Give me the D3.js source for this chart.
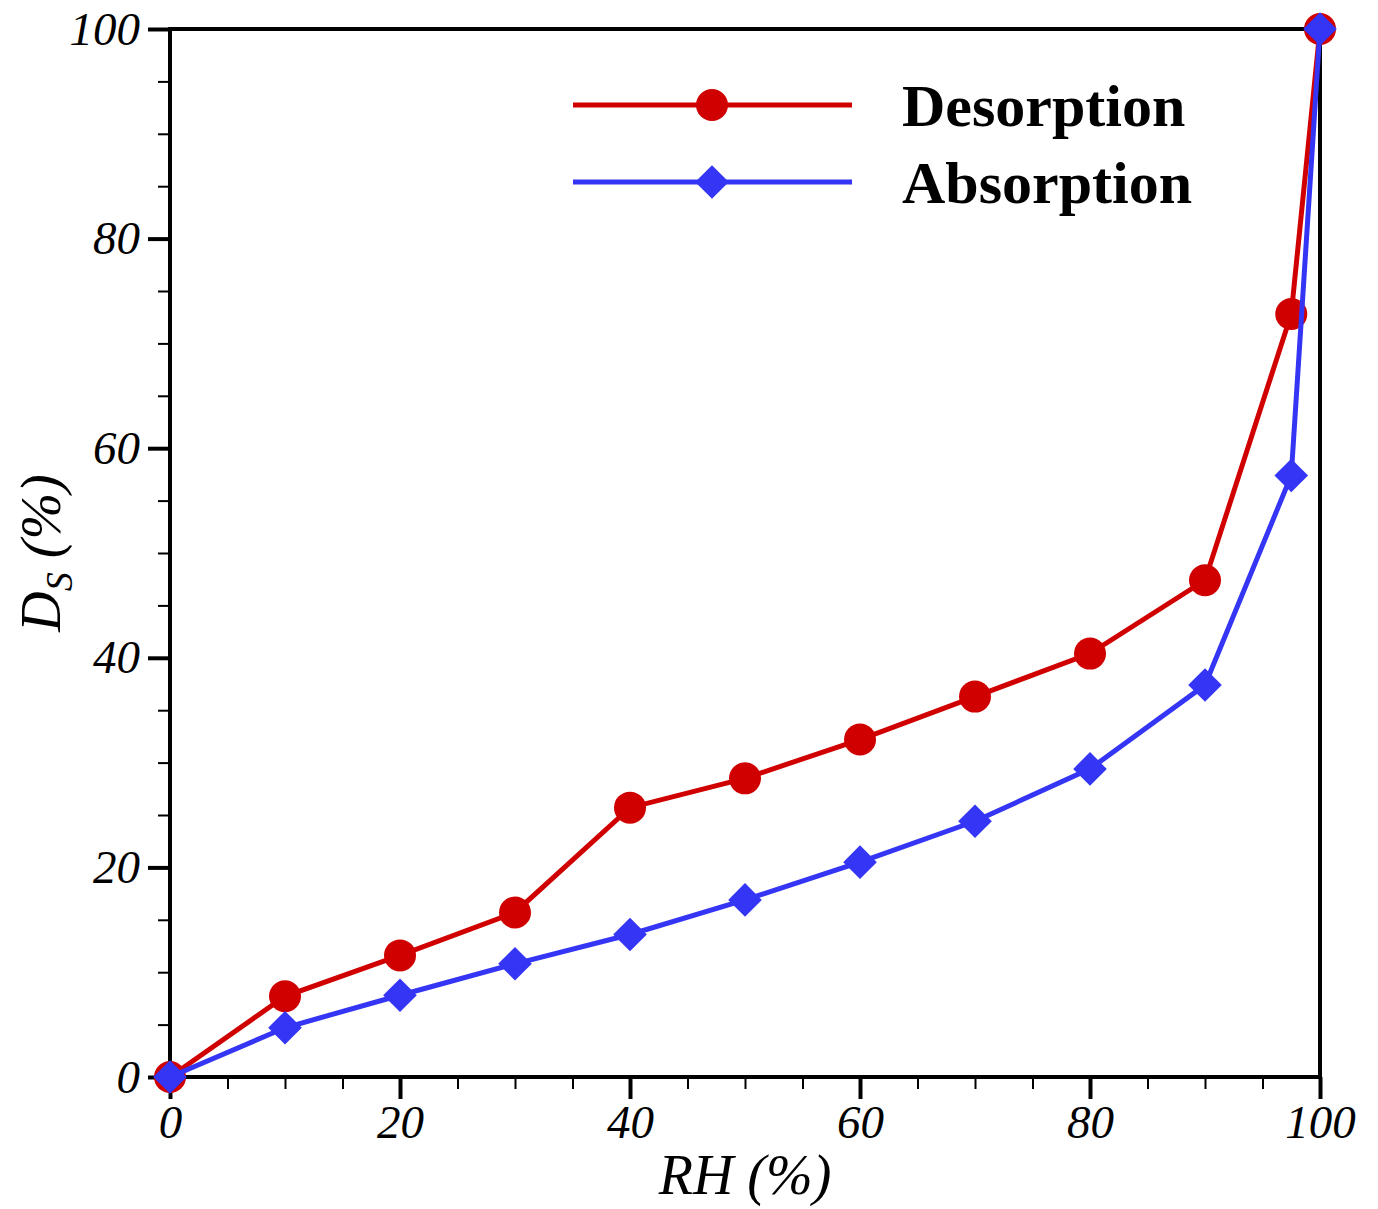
<!DOCTYPE html>
<html>
<head>
<meta charset="utf-8">
<script src="https://cdn.jsdelivr.net/npm/d3@7"></script>
<style>
  body { margin: 0; background: #fff; }
  text { font-family: "Liberation Serif", "Times New Roman", serif; }
</style>
</head>
<body>
<div id="chart"></div>
<script>
// RH (%) values shared by both series
const rh = [0, 10, 20, 30, 40, 50, 60, 70, 80, 90, 97.5, 100]
const desorption = [0, 7.7, 11.6, 15.7, 25.7, 28.5, 32.2, 36.3, 40.4, 47.4, 72.8, 100]
const absorption = [0, 4.7, 7.8, 10.8, 13.6, 16.9, 20.5, 24.4, 29.4, 37.4, 57.4, 100]
const xTicks = [0, 20, 40, 60, 80, 100]
const yTicks = [0, 20, 40, 60, 80, 100]
const seriesNames = ['Desorption', 'Absorption']

const W = 1378
const H = 1209
const margins = { top: 29, right: 58, bottom: 132, left: 170 }
const width = W - margins.left - margins.right
const height = H - margins.top - margins.bottom

const red = '#d00000'
const blue = '#3535f5'

const svg = d3.select('#chart')
  .append('svg')
  .attr('width', W)
  .attr('height', H)

const g = svg.append('g')
  .attr('transform', `translate(${margins.left}, ${margins.top})`)

const x = d3.scaleLinear([0, 100], [0, width])
const y = d3.scaleLinear([0, 100], [height, 0])

// minor ticks every 5 (skip the majors)
const minor = d3.range(0, 101, 5).filter(v => v % 20 !== 0)

g.append('g')
  .classed('minor', true)
  .attr('transform', `translate(0, ${height})`)
  .call(d3.axisBottom(x).tickValues(minor).tickSize(12).tickFormat(''))
g.append('g')
  .classed('major', true)
  .attr('transform', `translate(0, ${height})`)
  .call(d3.axisBottom(x).tickValues(xTicks).tickSize(22).tickPadding(6).tickFormat(d3.format('d')))

g.append('g')
  .classed('minor', true)
  .call(d3.axisLeft(y).tickValues(minor).tickSize(12).tickFormat(''))
g.append('g')
  .classed('major', true)
  .call(d3.axisLeft(y).tickValues(yTicks).tickSize(22).tickPadding(8).tickFormat(d3.format('d')))

g.selectAll('.domain').remove()
g.selectAll('.minor .tick line').attr('stroke', '#000').attr('stroke-width', 2)
g.selectAll('.major .tick line').attr('stroke', '#000').attr('stroke-width', 4)
g.selectAll('.tick text')
  .attr('fill', '#000')
  .style('font-size', '47px')
  .style('font-style', 'italic')

// frame
g.append('rect')
  .attr('width', width)
  .attr('height', height)
  .attr('fill', 'none')
  .attr('stroke', '#000')
  .attr('stroke-width', 4)

// axis titles
svg.append('text')
  .attr('x', margins.left + x(50))
  .attr('y', 1194)
  .attr('text-anchor', 'middle')
  .style('font-size', '56px')
  .style('font-style', 'italic')
  .text('RH (%)')

const yTitle = svg.append('text')
  .attr('transform', `translate(60, ${margins.top + y(50)}) rotate(-90)`)
  .attr('text-anchor', 'middle')
  .style('font-size', '56px')
  .style('font-style', 'italic')
yTitle.append('tspan').text('D')
yTitle.append('tspan').attr('dy', 12).style('font-size', '38px').text('S')
yTitle.append('tspan').attr('dy', -12).text(' (%)')

const line = d3.line()
  .x(d => x(d[0]))
  .y(d => y(d[1]))

const desData = rh.map((v, i) => [v, desorption[i]])
const absData = rh.map((v, i) => [v, absorption[i]])

const diamond = d3.symbol().type(d3.symbolDiamond2).size(720)

function drawSeries (data, color, marker) {
  g.append('path')
    .datum(data)
    .attr('fill', 'none')
    .attr('stroke', color)
    .attr('stroke-width', 5)
    .attr('d', line)
  if (marker === 'circle') {
    g.selectAll(null)
      .data(data)
      .enter()
      .append('circle')
      .attr('cx', d => x(d[0]))
      .attr('cy', d => y(d[1]))
      .attr('r', 16)
      .attr('fill', color)
  } else {
    g.selectAll(null)
      .data(data)
      .enter()
      .append('path')
      .attr('transform', d => `translate(${x(d[0])}, ${y(d[1])})`)
      .attr('d', diamond)
      .attr('fill', color)
  }
}

drawSeries(desData, red, 'circle')
drawSeries(absData, blue, 'diamond')

// legend
const legend = svg.append('g')
const legendRows = [
  { name: seriesNames[0], color: red, marker: 'circle', y: 105 },
  { name: seriesNames[1], color: blue, marker: 'diamond', y: 182 }
]
legendRows.forEach(r => {
  legend.append('line')
    .attr('x1', 573).attr('x2', 852)
    .attr('y1', r.y).attr('y2', r.y)
    .attr('stroke', r.color)
    .attr('stroke-width', 5)
  if (r.marker === 'circle') {
    legend.append('circle').attr('cx', 712).attr('cy', r.y).attr('r', 16).attr('fill', r.color)
  } else {
    legend.append('path')
      .attr('transform', `translate(712, ${r.y})`)
      .attr('d', diamond)
      .attr('fill', r.color)
  }
  legend.append('text')
    .attr('x', 902)
    .attr('y', r.y + 21)
    .style('font-size', '60px')
    .style('font-weight', 'bold')
    .text(r.name)
})
</script>
</body>
</html>
